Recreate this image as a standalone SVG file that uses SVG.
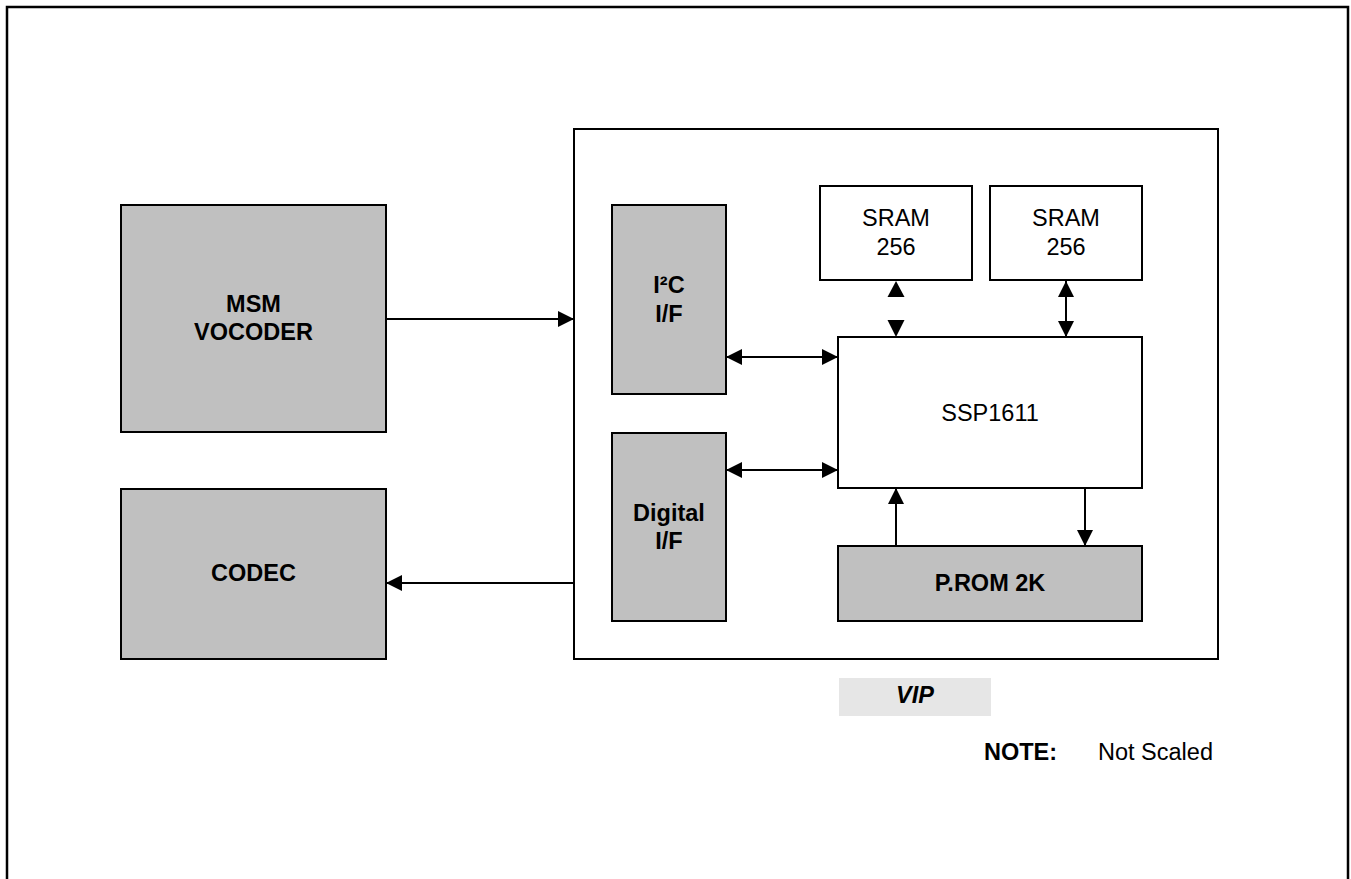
<svg xmlns="http://www.w3.org/2000/svg" width="1351" height="879" viewBox="0 0 1351 879">
<style>
.frame{fill:none;stroke:#000;stroke-width:2.5}
.box{fill:#fff;stroke:#000;stroke-width:2}
.gray{fill:#c0c0c0;stroke:#000;stroke-width:2}
.t{font-family:"Liberation Sans",Arial,sans-serif;font-size:23.5px;fill:#000;text-anchor:middle}
.b{font-weight:bold}
.ln{stroke:#000;stroke-width:2;fill:none}
.ah{fill:#000}
</style>
<defs>
<marker id="arr" viewBox="0 0 16 16" refX="16" refY="8" markerWidth="16" markerHeight="16" markerUnits="userSpaceOnUse" orient="auto-start-reverse">
<path d="M0,0 L16,8 L0,16 z" fill="#000"/>
</marker>
</defs>
<rect x="0" y="0" width="1351" height="879" fill="#fff"/>
<rect class="frame" x="7" y="7" width="1341" height="900"/>

<g id="vip">
<rect class="box" x="574" y="129" width="644" height="530"/>
</g>
<g id="msm">
<rect class="gray" x="121" y="205" width="265" height="227"/>
<text class="t b" x="253.5" y="312">MSM</text>
<text class="t b" x="253.5" y="340">VOCODER</text>
</g>
<g id="codec">
<rect class="gray" x="121" y="489" width="265" height="170"/>
<text class="t b" x="253.5" y="581">CODEC</text>
</g>
<g id="i2c">
<rect class="gray" x="612" y="205" width="114" height="189"/>
<text class="t b" x="669" y="293">I²C</text>
<text class="t b" x="669" y="322">I/F</text>
</g>
<g id="digital">
<rect class="gray" x="612" y="433" width="114" height="188"/>
<text class="t b" x="669" y="521">Digital</text>
<text class="t b" x="669" y="549">I/F</text>
</g>
<g id="sram1">
<rect class="box" x="820" y="186" width="152" height="94"/>
<text class="t" x="896" y="226">SRAM</text>
<text class="t" x="896" y="255">256</text>
</g>
<g id="sram2">
<rect class="box" x="990" y="186" width="152" height="94"/>
<text class="t" x="1066" y="226">SRAM</text>
<text class="t" x="1066" y="255">256</text>
</g>
<g id="ssp">
<rect class="box" x="838" y="337" width="304" height="151"/>
<text class="t" x="990" y="421">SSP1611</text>
</g>
<g id="prom">
<rect class="gray" x="838" y="546" width="304" height="75"/>
<text class="t b" x="990" y="591">P.ROM 2K</text>
</g>
<g id="viplabel">
<rect x="839" y="678" width="152" height="38" fill="#e6e6e6"/>
<text class="t b" x="915" y="703" font-style="italic">VIP</text>
</g>
<g id="note">
<text class="t b" x="984" y="760" text-anchor="start" style="text-anchor:start">NOTE:</text>
<text class="t" x="1098" y="760" style="text-anchor:start">Not Scaled</text>
</g>

<g id="connectors">
<line class="ln" x1="386" y1="319" x2="574" y2="319" marker-end="url(#arr)"/>
<line class="ln" x1="574" y1="583" x2="386" y2="583" marker-end="url(#arr)"/>
<line class="ln" x1="726" y1="357" x2="838" y2="357" marker-start="url(#arr)" marker-end="url(#arr)"/>
<line class="ln" x1="726" y1="470" x2="838" y2="470" marker-start="url(#arr)" marker-end="url(#arr)"/>
<polygon class="ah" points="896,281 887.5,297 904.5,297"/>
<polygon class="ah" points="896,337 887.5,320 904.5,320"/>
<line class="ln" x1="1066" y1="281" x2="1066" y2="337" marker-start="url(#arr)" marker-end="url(#arr)"/>
<line class="ln" x1="896" y1="546" x2="896" y2="488" marker-end="url(#arr)"/>
<line class="ln" x1="1085" y1="488" x2="1085" y2="546" marker-end="url(#arr)"/>
</g>
</svg>
